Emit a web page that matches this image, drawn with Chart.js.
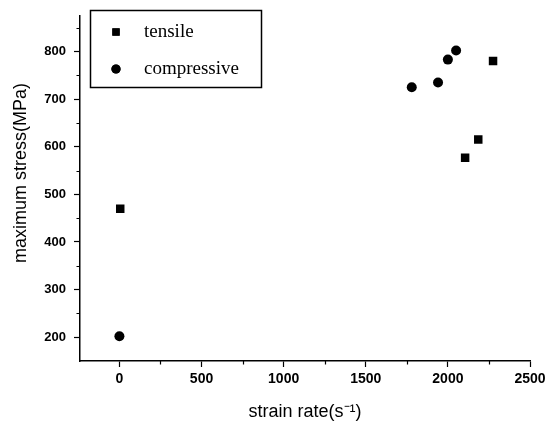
<!DOCTYPE html>
<html>
<head>
<meta charset="utf-8">
<script src="https://cdn.jsdelivr.net/npm/chart.js@4.4.1/dist/chart.umd.min.js"></script>
<style>
  html, body { margin: 0; padding: 0; background: #fff; }
  #wrap { width: 560px; height: 429px; }
</style>
</head>
<body>
<div id="wrap"><canvas id="c" width="560" height="429"></canvas></div>
<script>
  // strain rate (s^-1) vs maximum stress (MPa)
  const tensileRate = [5, 2105, 2185, 2275];
  const tensileStress = [470, 577, 615, 780];
  const compressiveRate = [0, 1780, 1940, 2000, 2050];
  const compressiveStress = [202, 725, 735, 783, 802];

  const xTicks = [0, 500, 1000, 1500, 2000, 2500];
  const xMinor = [250, 750, 1250, 1750, 2250];
  const yTicks = [200, 300, 400, 500, 600, 700, 800];
  const yMinor = [250, 350, 450, 550, 650, 750, 850];

  const seriesLabels = ["tensile", "compressive"];
  const yTitle = "maximum stress(MPa)";
  const xTitle = "strain rate(s\u207B\u00B9)";

  const toPoints = (xs, ys) => xs.map((x, i) => ({ x, y: ys[i] }));
  const SANS = "'Liberation Sans', Arial, sans-serif";

  // short minor ticks, y axis title and the boxed legend
  const extras = {
    id: "extras",
    afterDraw(chart) {
      const { ctx, chartArea, scales } = chart;
      ctx.save();
      ctx.strokeStyle = "#000";
      ctx.lineWidth = 1.2;
      ctx.beginPath();
      for (const v of xMinor) {
        const px = Math.round(scales.x.getPixelForValue(v)) + 0.5;
        ctx.moveTo(px, chartArea.bottom);
        ctx.lineTo(px, chartArea.bottom + 3.5);
      }
      for (const v of yMinor) {
        const py = Math.round(scales.y.getPixelForValue(v)) + 0.5;
        ctx.moveTo(chartArea.left, py);
        ctx.lineTo(chartArea.left - 3.5, py);
      }
      ctx.stroke();

      ctx.fillStyle = "#000";
      ctx.font = "18px " + SANS;
      ctx.textAlign = "center";
      ctx.textBaseline = "middle";
      ctx.translate(21, 173);
      ctx.rotate(-Math.PI / 2);
      ctx.fillText(yTitle, 0, 0);
      ctx.restore();

      // legend box
      ctx.save();
      ctx.strokeStyle = "#000";
      ctx.lineWidth = 1.5;
      ctx.strokeRect(90.5, 10.5, 171, 77);
      ctx.font = "19px 'Liberation Serif', 'Times New Roman', serif";
      ctx.fillStyle = "#000";
      ctx.textBaseline = "middle";
      const rows = [32, 69];
      chart.data.datasets.forEach((ds, i) => {
        Chart.helpers.drawPoint(ctx, {
          pointStyle: ds.pointStyle,
          radius: ds.pointStyle === "rect" ? 5.2 : 4.6,
          borderWidth: 0,
          rotation: 0,
        }, 116, rows[i]);
        ctx.fill();
        ctx.fillText(ds.label, 144, rows[i]);
      });
      ctx.restore();
    },
  };

  new Chart(document.getElementById("c"), {
    type: "scatter",
    data: {
      datasets: [
        {
          label: seriesLabels[0],
          data: toPoints(tensileRate, tensileStress),
          pointStyle: "rect",
          pointRadius: 6,
          backgroundColor: "#000",
          borderColor: "#000",
          borderWidth: 0,
        },
        {
          label: seriesLabels[1],
          data: toPoints(compressiveRate, compressiveStress),
          pointStyle: "circle",
          pointRadius: 5,
          backgroundColor: "#000",
          borderColor: "#000",
          borderWidth: 0,
        },
      ],
    },
    options: {
      responsive: false,
      animation: false,
      layout: { padding: { left: 0, right: 30, top: 15, bottom: 0 } },
      plugins: { legend: { display: false }, tooltip: { enabled: false } },
      scales: {
        x: {
          type: "linear",
          min: -240,
          max: 2500,
          afterBuildTicks: (axis) => { axis.ticks = xTicks.map(v => ({ value: v })); },
          afterFit: (axis) => { axis.height = 68; },
          ticks: {
            color: "#000",
            padding: 4,
            maxRotation: 0,
            callback: (v) => String(v),
            font: { family: SANS, size: 14, weight: "bold" },
          },
          grid: { drawOnChartArea: false, drawTicks: true, tickLength: 6, tickColor: "#000", tickWidth: 1.2 },
          border: { display: true, color: "#000", width: 1.5 },
          title: {
            display: true,
            text: xTitle,
            color: "#000",
            padding: { top: 0, bottom: 6 },
            font: { family: SANS, size: 18 },
          },
        },
        y: {
          type: "linear",
          min: 150,
          max: 875,
          afterBuildTicks: (axis) => { axis.ticks = yTicks.map(v => ({ value: v })); },
          afterFit: (axis) => { axis.width = 80; },
          ticks: {
            color: "#000",
            padding: 8,
            callback: (v) => String(v),
            font: { family: SANS, size: 13, weight: "bold" },
          },
          grid: { drawOnChartArea: false, drawTicks: true, tickLength: 6, tickColor: "#000", tickWidth: 1.2 },
          border: { display: true, color: "#000", width: 1.5 },
        },
      },
    },
    plugins: [extras],
  });
</script>
</body>
</html>
